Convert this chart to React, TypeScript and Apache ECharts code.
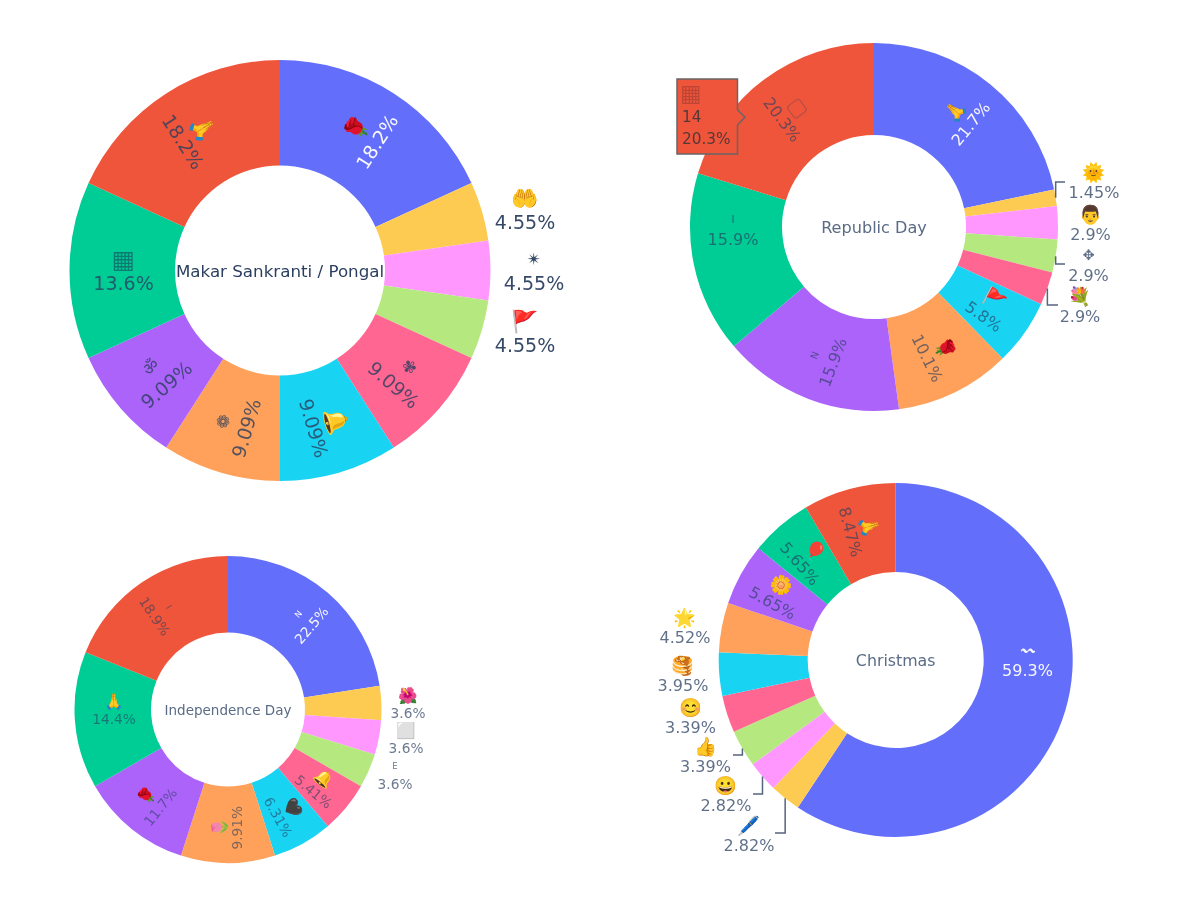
import React, { useEffect, useRef } from "react";
import * as echarts from "echarts";

const colors = ["#636EFA", "#FECB52", "#FF97FF", "#B6E880", "#FF6692", "#19D3F3", "#FFA15A", "#AB63FA", "#00CC96", "#EF553B"];

const pongalNames = ["🌹", "🤲", "✴", "🚩", "✾", "🔔", "❁", "ॐ", "▦", "🙏"];
const pongalValues = [4, 1, 1, 1, 2, 2, 2, 2, 3, 4];
const republicNames = ["🙏", "🌞", "👨", "✥", "💐", "🚩", "🌹", "N", "I", "▢"];
const republicValues = [15, 1, 2, 2, 2, 4, 7, 11, 11, 14];
const independenceNames = ["N", "🌺", "⬜", "E", "🔔", "🖤", "🌷", "🌹", "🙏", "I"];
const independenceValues = [25, 4, 4, 4, 6, 7, 11, 13, 16, 21];
const christmasNames = ["〰", "🖊", "😀", "👍", "😊", "🥞", "🌟", "🌼", "🎈", "🙏"];
const christmasValues = [105, 5, 5, 6, 6, 7, 8, 10, 10, 15];

const hoverGlyph = "▦";
const hoverValue = "14";
const hoverPercent = "20.3%";

const FONT = "'DejaVu Sans', 'Noto Sans', sans-serif";
const EMOJI_FONT = "'Noto Color Emoji', 'DejaVu Sans', sans-serif";

// Letters and plain symbols sit smaller than the colour emoji next to the percentages.
const LETTERS = "NIE";
const SYMBOLS = "✴✾❁ॐ✥〰";
const GRIDS = "▦▢";

function pct(v: number, total: number) {
  const p = (v / total) * 100;
  const s = p >= 10 ? p.toFixed(1) : p.toFixed(2);
  return s.replace(/(\.\d*?)0+$/, "$1").replace(/\.$/, "") + "%";
}

type Leader = { index: number; elbowY: number; endX: number };
type PieCfg = {
  names: string[]; values: number[]; title: string; cx: number; cy: number; r: number; r0: number; fs: number;
  titleFs: number; titleColor: string; insideAlpha: number; outsideAlpha: number;
  placed: Record<number, [number, number]>; fixedRotate?: Record<number, number>; leaders?: Leader[];
};

const pies: PieCfg[] = [
  { names: pongalNames, values: pongalValues, title: "Makar Sankranti / Pongal", cx: 280, cy: 270.5, r: 210.5, r0: 105, fs: 19,
    titleFs: 16.7, titleColor: "#2a3f5f", insideAlpha: 0.8, outsideAlpha: 0.95,
    placed: { 1: [525, 210], 2: [534, 271], 3: [525, 333], 8: [123.5, 271] } },
  { names: republicNames, values: republicValues, title: "Republic Day", cx: 874, cy: 227, r: 184, r0: 92, fs: 16,
    titleFs: 16.1, titleColor: "#5a6b85", insideAlpha: 0.65, outsideAlpha: 0.75,
    placed: { 1: [1094, 182], 2: [1090.5, 224], 3: [1088.5, 265], 4: [1080, 306.5], 8: [733, 229] },
    leaders: [{ index: 1, elbowY: 182, endX: 1065 }, { index: 3, elbowY: 264, endX: 1065 }, { index: 4, elbowY: 305, endX: 1058 }] },
  { names: independenceNames, values: independenceValues, title: "Independence Day", cx: 228, cy: 709.5, r: 153.5, r0: 77, fs: 13.7,
    titleFs: 13.5, titleColor: "#5a6b85", insideAlpha: 0.6, outsideAlpha: 0.7,
    placed: { 1: [408, 704], 2: [406, 739], 3: [395, 775], 8: [114, 710] }, fixedRotate: { 6: 90 } },
  { names: christmasNames, values: christmasValues, title: "Christmas", cx: 895.7, cy: 660, r: 177, r0: 88, fs: 16,
    titleFs: 15.8, titleColor: "#5a6b85", insideAlpha: 0.65, outsideAlpha: 0.75,
    placed: { 6: [685, 627.5], 5: [683, 675.5], 4: [690.5, 717], 3: [705.5, 756], 2: [726, 795.5], 1: [749, 835], 0: [1027.5, 660] },
    leaders: [{ index: 3, elbowY: 755, endX: 733 }, { index: 2, elbowY: 794, endX: 753 }, { index: 1, elbowY: 833, endX: 775 }] },
];

function isPlainGlyph(g: string) {
  return LETTERS.includes(g) || SYMBOLS.includes(g) || GRIDS.includes(g);
}

function glyphScale(g: string) {
  if (LETTERS.includes(g)) return 0.62;
  if (SYMBOLS.includes(g)) return 0.9;
  if (GRIDS.includes(g)) return 1.3;
  return 1.15;
}

function glyphColor(g: string, textColor: string) {
  if (GRIDS.includes(g)) return g === "▢" ? "rgba(42,63,95,0.3)" : "rgba(20,70,90,0.6)";
  if (LETTERS.includes(g) || SYMBOLS.includes(g)) return textColor;
  return "#000"; // colour emoji take the fill's alpha, so they stay opaque
}

function build(c: PieCfg) {
  const total = c.values.reduce((a, b) => a + b, 0);
  return {
    type: "pie",
    center: [c.cx, c.cy],
    radius: [c.r0, c.r],
    startAngle: 90,
    clockwise: true,
    silent: true,
    avoidLabelOverlap: false,
    minShowLabelAngle: 0,
    itemStyle: { borderWidth: 0 },
    labelLine: { show: false },
    labelLayout: (p: any) => {
      const pos = c.placed[p.dataIndex];
      return pos ? { x: pos[0], y: pos[1], align: "center", verticalAlign: "middle" } : {};
    },
    data: c.values.map((v, i) => {
      const isPlaced = !!c.placed[i];
      const isOutsideRing = isPlaced && i < 7 && !(c.names === christmasNames && i === 0);
      const color = i === 0 && !isOutsideRing
        ? "rgba(255,255,255,0.95)"
        : `rgba(42,63,95,${isOutsideRing ? c.outsideAlpha : c.insideAlpha})`;
      const g = c.names[i];
      return {
        name: g,
        value: v,
        itemStyle: { color: colors[i] },
        label: {
          show: true,
          position: isPlaced ? "outside" : "inside",
          rotate: c.fixedRotate?.[i] ?? (isPlaced ? 0 : "radial"),
          formatter: `{e|${g}}\n{p|${pct(v, total)}}`,
          fontFamily: FONT,
          align: "center",
          verticalAlign: "middle",
          rich: {
            e: {
              fontFamily: isPlainGlyph(g) ? FONT : EMOJI_FONT,
              fontSize: c.fs * glyphScale(g),
              lineHeight: c.fs * 1.25,
              color: glyphColor(g, color),
              align: "center",
            },
            p: { fontFamily: FONT, fontSize: c.fs, lineHeight: c.fs * 1.25, color, align: "center" },
          },
        },
      };
    }),
  };
}

// Leader line: leaves the ring at the middle of its slice, drops or rises, then runs to the label.
function leaderLines(c: PieCfg) {
  const total = c.values.reduce((a, b) => a + b, 0);
  return (c.leaders || []).map((l) => {
    const before = c.values.slice(0, l.index).reduce((a, b) => a + b, 0);
    const a = ((before + c.values[l.index] / 2) / total) * Math.PI * 2;
    const sx = c.cx + c.r * Math.sin(a);
    const sy = c.cy - c.r * Math.cos(a);
    return {
      type: "polyline",
      z: 20,
      shape: { points: [[sx, sy], [sx, l.elbowY], [l.endX, l.elbowY]] },
      style: { stroke: "#55647f", lineWidth: 1.5, fill: "none" },
    };
  });
}

const hoverInk = "rgba(60,50,55,0.85)";
const hoverBox = [
  {
    type: "polygon",
    z: 30,
    shape: { points: [[677, 79], [737.5, 79], [737.5, 110], [745, 117], [737.5, 125], [737.5, 154], [677, 154]] },
    style: { fill: "#EF553B", stroke: "#666", lineWidth: 1.5 },
  },
  { type: "text", z: 31, x: 680, y: 93, style: { text: hoverGlyph, font: `23px ${FONT}`, fill: "rgba(130,50,45,0.45)", textVerticalAlign: "middle" } },
  { type: "text", z: 31, x: 682, y: 117, style: { text: hoverValue, font: `15.3px ${FONT}`, fill: hoverInk, textVerticalAlign: "middle" } },
  { type: "text", z: 31, x: 682, y: 139, style: { text: hoverPercent, font: `15.3px ${FONT}`, fill: hoverInk, textVerticalAlign: "middle" } },
];

export default function App() {
  const ref = useRef<HTMLDivElement>(null);
  useEffect(() => {
    const chart = echarts.init(ref.current!, undefined, { renderer: "svg" });
    chart.setOption({
      animation: false,
      backgroundColor: "#fff",
      title: pies.map((p) => ({
        text: p.title, left: p.cx, top: p.cy, padding: 0, textAlign: "center", textVerticalAlign: "middle",
        textStyle: { fontFamily: FONT, fontWeight: "normal", fontSize: p.titleFs, color: p.titleColor },
      })),
      series: pies.map(build),
      graphic: [...pies.flatMap(leaderLines), ...hoverBox],
    });
    return () => chart.dispose();
  }, []);
  return <div ref={ref} style={{ position: "fixed", left: 0, top: 0, width: 1200, height: 900, filter: "blur(0.5px)" }} />;
}
